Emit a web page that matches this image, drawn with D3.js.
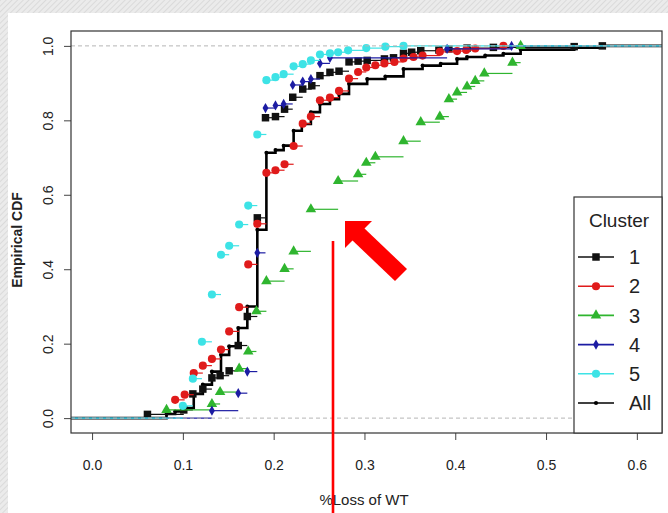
<!DOCTYPE html>
<html>
<head>
<meta charset="utf-8">
<script src="https://cdn.jsdelivr.net/npm/d3@7"></script>
<style>
    body { margin: 0; background: #fff; }
    svg { display: block; font-family: 'Liberation Sans', Arial, sans-serif; }
</style>
</head>
<body>
<svg class="ecdf" width="668" height="513"></svg>
<script>
    'use strict'

    // x values (%Loss of WT) and ECDF heights, one pair per cluster
    const c1X = [0.061, 0.101, 0.111, 0.122, 0.132, 0.141, 0.151, 0.161, 0.171, 0.182, 0.191, 0.202, 0.212, 0.221, 0.232, 0.242, 0.251, 0.262, 0.272, 0.283, 0.293, 0.303, 0.322, 0.332, 0.343, 0.352, 0.362, 0.382, 0.393, 0.413, 0.442, 0.531, 0.562];
    const c1Y = [0.010, 0.022, 0.065, 0.078, 0.108, 0.114, 0.127, 0.195, 0.273, 0.538, 0.807, 0.810, 0.830, 0.862, 0.884, 0.893, 0.920, 0.929, 0.932, 0.957, 0.959, 0.961, 0.965, 0.968, 0.980, 0.983, 0.987, 0.989, 0.992, 0.994, 0.996, 0.998, 1.0];

    const c2X = [0.0915, 0.102, 0.112, 0.122, 0.132, 0.142, 0.151, 0.162, 0.172, 0.182, 0.192, 0.202, 0.212, 0.222, 0.232, 0.241, 0.251, 0.262, 0.272, 0.283, 0.293, 0.302, 0.312, 0.322, 0.333, 0.343, 0.354, 0.364, 0.383, 0.402, 0.412, 0.422, 0.453];
    const c2Y = [0.049, 0.063, 0.121, 0.141, 0.159, 0.184, 0.233, 0.298, 0.413, 0.522, 0.659, 0.666, 0.682, 0.731, 0.791, 0.810, 0.854, 0.861, 0.879, 0.912, 0.930, 0.942, 0.948, 0.953, 0.957, 0.966, 0.970, 0.974, 0.984, 0.986, 0.989, 0.993, 1.0];

    const c3X = [0.082, 0.132, 0.141, 0.162, 0.172, 0.181, 0.192, 0.212, 0.222, 0.241, 0.271, 0.293, 0.302, 0.312, 0.343, 0.362, 0.383, 0.393, 0.402, 0.413, 0.422, 0.432, 0.463, 0.472];
    const c3Y = [0.022, 0.038, 0.070, 0.133, 0.179, 0.287, 0.368, 0.401, 0.448, 0.561, 0.637, 0.655, 0.686, 0.702, 0.744, 0.795, 0.810, 0.857, 0.875, 0.891, 0.906, 0.926, 0.955, 1.0];

    const c4X = [0.132, 0.161, 0.171, 0.182, 0.191, 0.202, 0.211, 0.221, 0.232, 0.241, 0.251, 0.262, 0.391, 0.462];
    const c4Y = [0.020, 0.067, 0.125, 0.444, 0.833, 0.840, 0.844, 0.895, 0.904, 0.911, 0.953, 0.968, 0.992, 1.0];

    const c5X = [0.100, 0.111, 0.121, 0.132, 0.142, 0.151, 0.162, 0.172, 0.182, 0.192, 0.202, 0.211, 0.222, 0.232, 0.241, 0.251, 0.262, 0.271, 0.282, 0.302, 0.323, 0.343];
    const c5Y = [0.033, 0.106, 0.205, 0.332, 0.439, 0.463, 0.520, 0.571, 0.762, 0.908, 0.916, 0.924, 0.945, 0.951, 0.961, 0.977, 0.980, 0.983, 0.988, 0.994, 0.998, 1.0];

    // pooled ECDF (thick black staircase)
    const allX = [0.082, 0.0915, 0.101, 0.112, 0.122, 0.132, 0.142, 0.151, 0.161, 0.171, 0.182, 0.192, 0.202, 0.211, 0.222, 0.231, 0.241, 0.251, 0.262, 0.272, 0.283, 0.303, 0.323, 0.343, 0.364, 0.384, 0.402, 0.413, 0.433, 0.453, 0.472, 0.531, 0.562];
    const allY = [0.011, 0.018, 0.027, 0.065, 0.090, 0.125, 0.170, 0.193, 0.242, 0.300, 0.506, 0.713, 0.720, 0.732, 0.772, 0.790, 0.822, 0.844, 0.857, 0.871, 0.898, 0.911, 0.918, 0.938, 0.947, 0.952, 0.965, 0.970, 0.974, 0.979, 0.990, 0.995, 1.0];

    const clusterNames = ['1', '2', '3', '4', '5'];
    const clusterColors = ['#111111', '#e01b1b', '#2fb52f', '#1c1ca3', '#3de3e6'];
    const xTicks = [0.0, 0.1, 0.2, 0.3, 0.4, 0.5, 0.6];
    const yTicks = [0.0, 0.2, 0.4, 0.6, 0.8, 1.0];

    const clusters = [
        { name: clusterNames[0], xs: c1X, ys: c1Y, color: clusterColors[0], shape: d3.symbolSquare, size: 56 },
        { name: clusterNames[1], xs: c2X, ys: c2Y, color: clusterColors[1], shape: d3.symbolCircle, size: 52 },
        { name: clusterNames[2], xs: c3X, ys: c3Y, color: clusterColors[2], shape: d3.symbolTriangle, size: 48 },
        { name: clusterNames[3], xs: c4X, ys: c4Y, color: clusterColors[3], shape: d3.symbolDiamond, size: 30 },
        { name: clusterNames[4], xs: c5X, ys: c5Y, color: clusterColors[4], shape: d3.symbolCircle, size: 52 }
    ];

    const svg = d3.select('svg.ecdf'),
        box = { left: 71, right: 662, top: 31, bottom: 433 };

    // R style usr range: 4% padding around the data range
    const x = d3.scaleLinear().domain([-0.0232, 0.6277]).range([box.left, box.right]);
    const y = d3.scaleLinear().domain([-0.04, 1.04]).range([box.bottom, box.top]);

    // slide background, hatched strip along the top and left
    const defs = svg.append('defs');
    const pat = defs.append('pattern')
        .attr('id', 'hatch')
        .attr('width', 4).attr('height', 4)
        .attr('patternUnits', 'userSpaceOnUse')
        .attr('patternTransform', 'rotate(45)');
    pat.append('rect').attr('width', 4).attr('height', 4).attr('fill', '#ebebeb');
    pat.append('line').attr('x1', 0).attr('y1', 0).attr('x2', 0).attr('y2', 4)
        .attr('stroke', '#d5d5d5').attr('stroke-width', 1.5);

    svg.append('rect').attr('width', 668).attr('height', 513).attr('fill', 'url(#hatch)');
    svg.append('rect').attr('x', 8).attr('y', 13).attr('width', 660).attr('height', 500).attr('fill', '#fff');

    defs.append('clipPath').attr('id', 'plotclip')
        .append('rect')
        .attr('x', box.left).attr('y', box.top)
        .attr('width', box.right - box.left).attr('height', box.bottom - box.top);

    const plot = svg.append('g').attr('clip-path', 'url(#plotclip)');
    const xMin = x.domain()[0], xMax = x.domain()[1];

    // pooled ECDF as one thick step line
    const allPts = [[xMin, 0]];
    allX.forEach((v, i) => allPts.push([v, allY[i]]));
    allPts.push([xMax, 1]);

    plot.append('path')
        .datum(allPts)
        .attr('fill', 'none')
        .attr('stroke', '#000')
        .attr('stroke-width', 2.6)
        .attr('d', d3.line().curve(d3.curveStepAfter).x(d => x(d[0])).y(d => y(d[1])));

    plot.selectAll('.alldot')
        .data(allX)
        .enter().append('circle')
        .attr('class', 'alldot')
        .attr('cx', d => x(d))
        .attr('cy', (d, i) => y(allY[i]))
        .attr('r', 2)
        .attr('fill', '#000');

    // each cluster: horizontal segments plus a point at the left end of each
    clusters.forEach((c) => {
        const g = plot.append('g');
        const segs = [{ x0: xMin, x1: c.xs[0], v: 0 }];
        c.xs.forEach((v, i) => {
            segs.push({ x0: v, x1: i < c.xs.length - 1 ? c.xs[i + 1] : xMax, v: c.ys[i] });
        });

        g.selectAll('line')
            .data(segs)
            .enter().append('line')
            .attr('x1', d => x(d.x0))
            .attr('x2', d => x(d.x1))
            .attr('y1', d => y(d.v))
            .attr('y2', d => y(d.v))
            .attr('stroke', c.color)
            .attr('stroke-width', 1.2);

        g.selectAll('path')
            .data(c.xs)
            .enter().append('path')
            .attr('transform', (d, i) => 'translate(' + x(d) + ',' + y(c.ys[i]) + ')')
            .attr('d', d3.symbol().type(c.shape).size(c.size))
            .attr('fill', c.color);
    });

    // dashed reference lines at 0 and 1
    plot.selectAll('.ref')
        .data([0, 1])
        .enter().append('line')
        .attr('class', 'ref')
        .attr('x1', box.left).attr('x2', box.right)
        .attr('y1', d => y(d)).attr('y2', d => y(d))
        .attr('stroke', '#b5b5b5')
        .attr('stroke-width', 1)
        .attr('stroke-dasharray', '4,3');

    // axes
    const xAxis = svg.append('g')
        .attr('transform', 'translate(0,' + box.bottom + ')')
        .call(d3.axisBottom(x).tickValues(xTicks).tickFormat(d3.format('.1f')).tickSize(7).tickPadding(20));
    xAxis.select('.domain').remove();
    xAxis.selectAll('text').attr('font-size', 14).attr('fill', '#222').attr('font-family', null);
    xAxis.selectAll('line').attr('stroke', '#444');

    const yAxis = svg.append('g')
        .attr('transform', 'translate(' + box.left + ',0)')
        .call(d3.axisLeft(y).tickValues(yTicks).tickFormat(d3.format('.1f')).tickSize(7));
    yAxis.select('.domain').remove();
    yAxis.selectAll('line').attr('stroke', '#444');
    yAxis.selectAll('text')
        .attr('font-size', 14).attr('fill', '#222').attr('font-family', null)
        .attr('x', null)
        .attr('text-anchor', 'middle')
        .attr('transform', 'translate(-23,0)rotate(-90)')
        .attr('dy', '0.35em');

    svg.append('rect')
        .attr('x', box.left).attr('y', box.top)
        .attr('width', box.right - box.left).attr('height', box.bottom - box.top)
        .attr('fill', 'none')
        .attr('stroke', '#333')
        .attr('stroke-width', 1.2);

    svg.append('text')
        .attr('text-anchor', 'middle')
        .attr('transform', 'translate(22,240)rotate(-90)')
        .attr('font-size', 14)
        .attr('font-weight', 'bold')
        .attr('fill', '#222')
        .text('Empirical CDF');

    svg.append('text')
        .attr('text-anchor', 'middle')
        .attr('x', 364).attr('y', 505)
        .attr('font-size', 15)
        .attr('fill', '#222')
        .text('%Loss of WT');

    // legend
    const leg = svg.append('g');
    leg.append('rect')
        .attr('x', 574).attr('y', 197)
        .attr('width', box.right - 574).attr('height', box.bottom - 197)
        .attr('fill', '#fff')
        .attr('stroke', '#333')
        .attr('stroke-width', 1.2);
    leg.append('text')
        .attr('x', 619).attr('y', 227)
        .attr('text-anchor', 'middle')
        .attr('font-size', 19)
        .attr('fill', '#222')
        .text('Cluster');

    const legItems = clusters.map(c => ({ name: c.name, color: c.color, shape: c.shape, size: c.size }))
        .concat([{ name: 'All', color: '#000', shape: d3.symbolCircle, size: 14 }]);

    const row = leg.selectAll('.row')
        .data(legItems)
        .enter().append('g')
        .attr('class', 'row')
        .attr('transform', (d, i) => 'translate(0,' + (257 + i * 29.2) + ')');
    row.append('line')
        .attr('x1', 578).attr('x2', 614)
        .attr('stroke', d => d.color)
        .attr('stroke-width', 1.6);
    row.append('path')
        .attr('transform', 'translate(596,0)')
        .attr('d', d => d3.symbol().type(d.shape).size(d.size)())
        .attr('fill', d => d.color);
    row.append('text')
        .attr('x', 629).attr('dy', '0.36em')
        .attr('font-size', 20)
        .attr('fill', '#222')
        .text(d => d.name);

    // red annotations pasted on the slide
    svg.append('line')
        .attr('x1', 333).attr('x2', 333)
        .attr('y1', 241).attr('y2', 513)
        .attr('stroke', '#ff0000')
        .attr('stroke-width', 2.6);

    const ann = svg.append('g').attr('fill', '#ff0000');
    ann.append('path').attr('d', 'M345,221 L372,221 L345,248 Z');
    ann.append('path').attr('d', 'M352,240 L364,228 L407,269 L395,281 Z');
</script>
</body>
</html>
